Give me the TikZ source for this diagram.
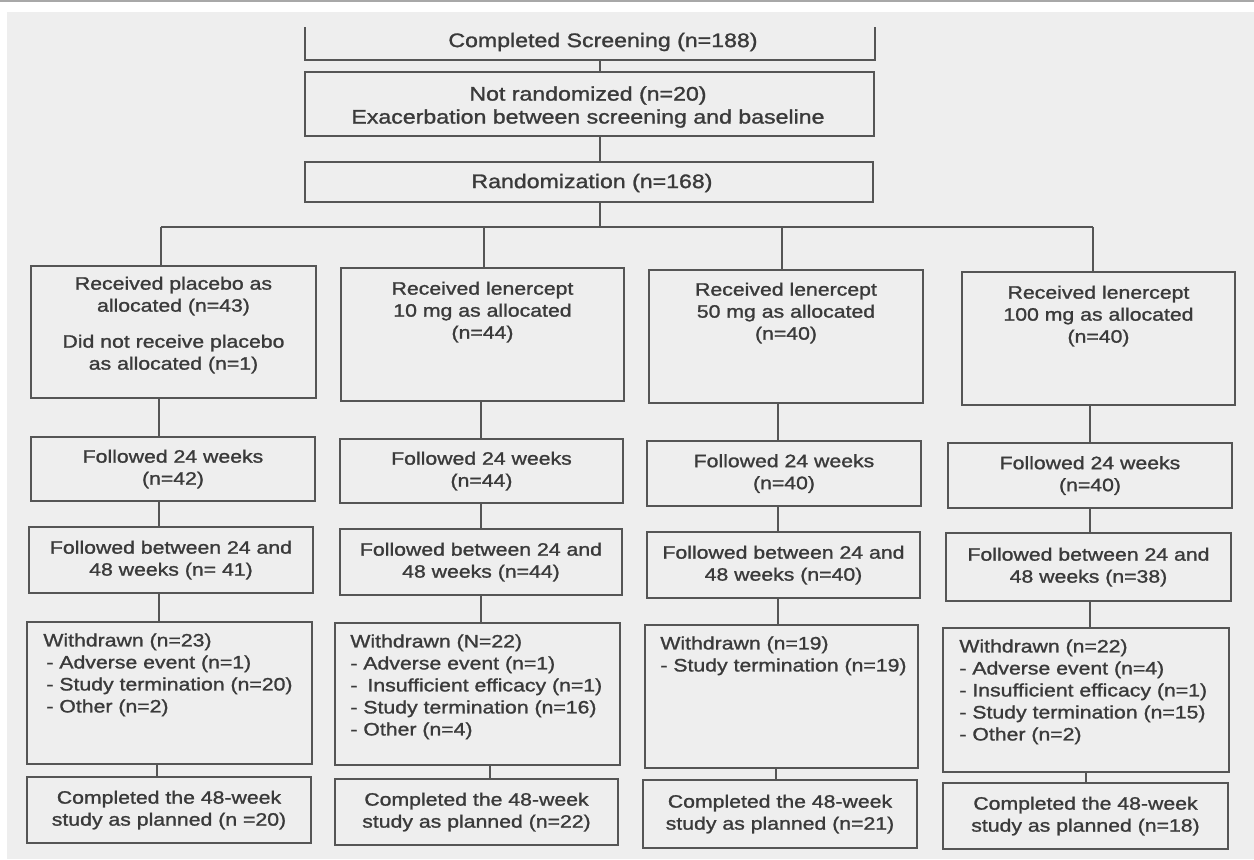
\documentclass[tikz,border=0pt]{standalone}
\usepackage{fontspec}
\setmainfont[FakeStretch=1.18,FakeBold=1.3]{Liberation Sans}
\definecolor{pagebg}{HTML}{EEEEEE}
\definecolor{inkc}{HTML}{3A3A3A}
\definecolor{rulec}{HTML}{555555}
\definecolor{edgec}{HTML}{A8A8A8}
\tikzset{
  boxst/.style={draw=rulec, line width=0.9pt, inner sep=0pt, outer sep=0pt},
  link/.style={draw=rulec, line width=0.7pt},
  ctext/.style={inner sep=0pt, align=center, text=inkc, font=\fontsize{9}{11}\selectfont},
  ltext/.style={inner sep=0pt, align=left, text=inkc, anchor=north west, font=\fontsize{9}{11}\selectfont},
  ttext/.style={inner sep=0pt, align=center, text=inkc, font=\fontsize{9.8}{11.5}\selectfont},
}
% box from (x1,y1) to (x2,y2), given in pixel-like units
\newcommand{\cbox}[5]{\node[boxst, minimum width={(#4-#2)*0.5pt}, minimum height={(#5-#3)*0.5pt}] (#1) at ({(#2+#4)/2},{(#3+#5)/2}) {};}
\begin{document}
\begin{tikzpicture}[x=0.5pt, y=-0.5pt]
\useasboundingbox (0,0) rectangle (1254,859);
% page
\fill[white] (0,0) rectangle (1254,859);
\fill[pagebg] (7,12) rectangle (1254,859);
\draw[edgec, line width=1pt] (0,1) -- (1254,1);

% column lines
\coordinate (xs) at (600,0);
\coordinate (xa1) at (161,0);  \coordinate (xa2) at (484,0);
\coordinate (xa3) at (782,0);  \coordinate (xa4) at (1093,0);
\coordinate (xb1) at (159,0);  \coordinate (xb2) at (481,0);
\coordinate (xb3) at (778,0);  \coordinate (xb4) at (1090,0);
\coordinate (xc1) at (157,0);  \coordinate (xc2) at (490,0);
\coordinate (xc3) at (776,0);  \coordinate (xc4) at (1086,0);
\coordinate (bar) at (600,227);

% top part
\node[inner sep=0pt, outer sep=0pt, minimum width=285pt, minimum height=16.5pt] (scr) at (590,43.5) {};
\draw[boxst] (scr.north west) -- (scr.south west) -- (scr.south east) -- (scr.north east);
\node[ttext] (scr-t) at (603,42) {Completed Screening (n=188)};

\cbox{nr}{305}{72}{874}{136}
\node[ttext] (nr-t) at (588,107) {Not randomized (n=20)\\Exacerbation between screening and baseline};

\cbox{rnd}{305}{162}{873}{202}
\node[ttext] (rnd-t) at (592,183) {Randomization (n=168)};

% allocation
\cbox{c1a}{31}{266}{316}{398}
\cbox{c2a}{341}{268}{624}{401}
\cbox{c3a}{649}{270}{923}{403}
\cbox{c4a}{962}{272}{1235}{405}
\node[ctext] (c1a-t) at ([yshift=-29.5pt]c1a.north) {Received placebo as\\allocated (n=43)\\[7pt]Did not receive placebo\\as allocated (n=1)};
\node[ctext] (c2a-t) at ([yshift=-22pt]c2a.north) {Received lenercept\\10 mg as allocated\\(n=44)};
\node[ctext] (c3a-t) at ([yshift=-21.5pt]c3a.north) {Received lenercept\\50 mg as allocated\\(n=40)};
\node[ctext] (c4a-t) at ([yshift=-22pt]c4a.north) {Received lenercept\\100 mg as allocated\\(n=40)};

% followed 24 weeks
\cbox{c1b}{31}{437}{315}{501}
\cbox{c2b}{340}{439}{623}{503}
\cbox{c3b}{647}{441}{921}{506}
\cbox{c4b}{948}{443}{1232}{508}
\node[ctext] (c1b-t) at (c1b.center) {Followed 24 weeks\\(n=42)};
\node[ctext] (c2b-t) at (c2b.center) {Followed 24 weeks\\(n=44)};
\node[ctext] (c3b-t) at (c3b.center) {Followed 24 weeks\\(n=40)};
\node[ctext] (c4b-t) at (c4b.center) {Followed 24 weeks\\(n=40)};

% followed 24-48 weeks
\cbox{c1c}{29}{527}{313}{593}
\cbox{c2c}{340}{529}{622}{595}
\cbox{c3c}{647}{532}{920}{598}
\cbox{c4c}{946}{533}{1231}{601}
\node[ctext] (c1c-t) at (c1c.center) {Followed between 24 and\\48 weeks (n= 41)};
\node[ctext] (c2c-t) at (c2c.center) {Followed between 24 and\\48 weeks (n=44)};
\node[ctext] (c3c-t) at (c3c.center) {Followed between 24 and\\48 weeks (n=40)};
\node[ctext] (c4c-t) at (c4c.center) {Followed between 24 and\\48 weeks (n=38)};

% withdrawn
\cbox{c1d}{27}{622}{312}{764}
\cbox{c2d}{335}{623}{620}{765}
\cbox{c3d}{645}{625}{918}{768}
\cbox{c4d}{943}{628}{1229}{772}
\node[ltext] (c1d-t) at ([xshift=8pt,yshift=-5.5pt]c1d.north west) {Withdrawn (n=23)\\\hspace{1.5pt}- Adverse event (n=1)\\\hspace{1.5pt}- Study termination (n=20)\\\hspace{1.5pt}- Other (n=2)};
\node[ltext] (c2d-t) at ([xshift=7.5pt,yshift=-5.5pt]c2d.north west) {Withdrawn (N=22)\\- Adverse event (n=1)\\-\hspace{5pt}Insufficient efficacy (n=1)\\- Study termination (n=16)\\- Other (n=4)};
\node[ltext] (c3d-t) at ([xshift=7.5pt,yshift=-5.5pt]c3d.north west) {Withdrawn (n=19)\\- Study termination (n=19)};
\node[ltext] (c4d-t) at ([xshift=8pt,yshift=-5.5pt]c4d.north west) {Withdrawn (n=22)\\- Adverse event (n=4)\\- Insufficient efficacy (n=1)\\- Study termination (n=15)\\- Other (n=2)};

% completed
\cbox{c1e}{27}{777}{311}{843}
\cbox{c2e}{335}{779}{618}{845}
\cbox{c3e}{643}{780}{917}{848}
\cbox{c4e}{943}{783}{1228}{849}
\node[ctext] (c1e-t) at (c1e.center) {Completed the 48-week\\study as planned (n =20)};
\node[ctext] (c2e-t) at (c2e.center) {Completed the 48-week\\study as planned (n=22)};
\node[ctext] (c3e-t) at (c3e.center) {Completed the 48-week\\study as planned (n=21)};
\node[ctext] (c4e-t) at (c4e.center) {Completed the 48-week\\study as planned (n=18)};

% connectors
\draw[link] (scr.south -| xs) -- (nr.north -| xs);
\draw[link] (nr.south -| xs) -- (rnd.north -| xs);
\draw[link] (rnd.south -| xs) -- (bar);
\draw[link] (bar -| xa1) -- (bar -| xa4);
\foreach \i in {1,2,3,4}{
  \draw[link] (bar -| xa\i) -- (c\i a.north -| xa\i);
  \draw[link] (c\i a.south -| xb\i) -- (c\i b.north -| xb\i);
  \draw[link] (c\i b.south -| xb\i) -- (c\i c.north -| xb\i);
  \draw[link] (c\i c.south -| xb\i) -- (c\i d.north -| xb\i);
  \draw[link] (c\i d.south -| xc\i) -- (c\i e.north -| xc\i);
}
\end{tikzpicture}
\end{document}
